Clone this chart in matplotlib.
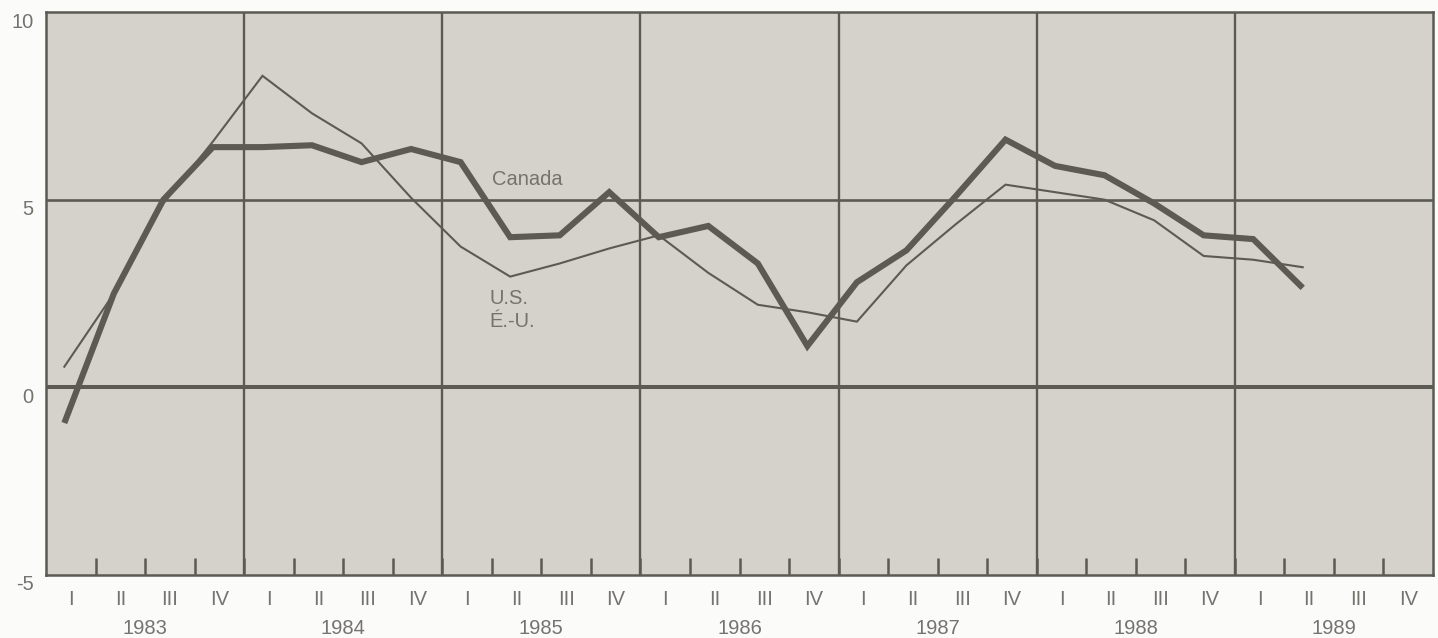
import matplotlib
matplotlib.use("Agg")
import matplotlib.pyplot as plt
import matplotlib.transforms as mtransforms
import numpy as np

# Quarterly series, 1983 Q1 to 1989 Q2
years = ["1983", "1984", "1985", "1986", "1987", "1988", "1989"]
quarters = ["I", "II", "III", "IV"]

canada = [-0.95, 2.5, 5.0, 6.4,
          6.4, 6.45, 6.0, 6.35,
          6.0, 4.0, 4.05, 5.2,
          4.0, 4.3, 3.3, 1.1,
          2.8, 3.65, 5.1, 6.6,
          5.9, 5.65, 4.9, 4.05,
          3.95, 2.65]

us = [0.55, 2.5, 4.9, 6.55,
      8.3, 7.3, 6.5, 5.05,
      3.75, 2.95, 3.3, 3.7,
      4.05, 3.05, 2.2, 2.0,
      1.75, 3.25, 4.35, 5.4,
      5.2, 5.0, 4.45, 3.5,
      3.4, 3.2]

y_ticks = [-5, 0, 5, 10]

LINE = "#5b5a53"
TEXT = "#74736d"
PANEL = "#d5d2cc"
FONT = "Liberation Sans"
FS = 14.5

fig = plt.figure(figsize=(14.38, 6.38), dpi=100, facecolor="#fbfbfa")
ax = fig.add_axes([46 / 1438, 63 / 638, 1387 / 1438, 563 / 638])
ax.set_facecolor(PANEL)

n_q = len(years) * 4
ax.set_xlim(0, n_q)
ax.set_ylim(-5, 10)

# grid: year separators and horizontal reference lines
for k in range(1, len(years)):
    ax.axvline(4 * k, color=LINE, lw=1.7, zorder=1)
ax.axhline(5, color=LINE, lw=1.9, zorder=1)
ax.axhline(0, color=LINE, lw=2.9, zorder=1)

for side in ax.spines.values():
    side.set_color(LINE)
    side.set_linewidth(1.8)

x_pts = np.arange(len(canada)) + 0.37
ax.plot(np.arange(len(us)) + 0.37, us, color=LINE, lw=1.5, zorder=3,
        solid_joinstyle="miter")
ax.plot(x_pts, canada, color=LINE, lw=4.4, zorder=4,
        solid_joinstyle="miter", solid_capstyle="butt")

# quarter boundary ticks (inside, from the bottom)
ax.set_xticks(np.arange(1, n_q))
ax.tick_params(axis="x", which="major", direction="in", length=12, width=1.8,
               color=LINE, labelbottom=False, top=False)
ax.set_xticks(np.arange(n_q) + 0.5, minor=True)
ax.set_xticklabels(quarters * len(years), minor=True)
ax.tick_params(axis="x", which="minor", length=0, pad=11, labelsize=FS,
               labelcolor=TEXT)
for lab in ax.get_xticklabels(minor=True):
    lab.set_fontfamily(FONT)

# year labels under the quarter labels
for k, yr in enumerate(years):
    ax.annotate(yr, xy=(4 * k + 2, 0), xycoords=("data", "axes fraction"),
                xytext=(0, -38.5), textcoords="offset points",
                ha="center", va="center", fontsize=FS, color=TEXT,
                fontfamily=FONT)

ax.set_yticks(y_ticks)
ax.set_yticklabels([str(v) for v in y_ticks])
ax.tick_params(axis="y", length=0, pad=9, labelsize=FS, labelcolor=TEXT)
shift = mtransforms.ScaledTranslation(0, -8 / 100, fig.dpi_scale_trans)
for lab in ax.get_yticklabels():
    lab.set_fontfamily(FONT)
    lab.set_transform(lab.get_transform() + shift)

# series labels
ax.text(9.0, 5.55, "Canada", fontsize=FS, color=TEXT, fontfamily=FONT,
        ha="left", va="center")
ax.text(8.95, 2.38, "U.S.", fontsize=FS, color=TEXT, fontfamily=FONT,
        ha="left", va="center")
ax.text(8.95, 1.76, "É.-U.", fontsize=FS, color=TEXT, fontfamily=FONT,
        ha="left", va="center")

fig.savefig("out.png", dpi=100, facecolor=fig.get_facecolor())
